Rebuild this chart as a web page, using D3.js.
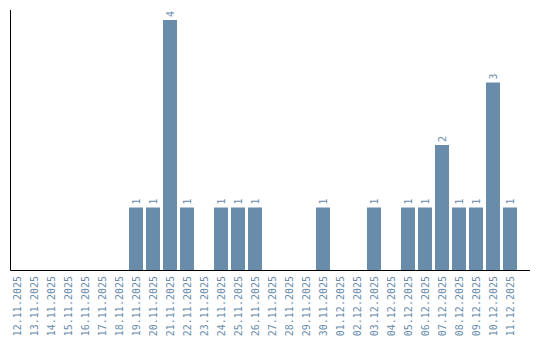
<!DOCTYPE html>
<html>
<head>
<meta charset="utf-8">
<script src="https://cdn.jsdelivr.net/npm/d3@7"></script>
<style>
  body { margin: 0; background: #fff; }
  text { font-family: "DejaVu Sans Mono", monospace; font-size: 10px; fill: #6a8cab; }
</style>
</head>
<body>
<div id="main"></div>
<script>
var dates = ['12.11.2025', '13.11.2025', '14.11.2025', '15.11.2025', '16.11.2025', '17.11.2025',
  '18.11.2025', '19.11.2025', '20.11.2025', '21.11.2025', '22.11.2025', '23.11.2025',
  '24.11.2025', '25.11.2025', '26.11.2025', '27.11.2025', '28.11.2025', '29.11.2025',
  '30.11.2025', '01.12.2025', '02.12.2025', '03.12.2025', '04.12.2025', '05.12.2025',
  '06.12.2025', '07.12.2025', '08.12.2025', '09.12.2025', '10.12.2025', '11.12.2025'];
var counts = [0, 0, 0, 0, 0, 0, 0, 1, 1, 4, 1, 0, 1, 1, 1, 0, 0, 0, 1, 0, 0, 1, 0, 1, 1, 2, 1, 1, 3, 1];

var width = 540,
    height = 340,
    baseY = 270,
    barColor = '#6a8cab';

var svg = d3.select('#main').append('svg')
    .attr('width', width)
    .attr('height', height);

var x = d3.scaleBand()
  .domain(dates)
  .range([8.5, 518.5])
  .paddingInner(3 / 17)
  .paddingOuter(1.5 / 17);

var y = d3.scaleLinear()
  .domain([0, d3.max(counts)])
  .range([baseY, 20]);

var data = dates.map(function(d, i) { return { date: d, value: counts[i] }; });
var shown = data.filter(function(d) { return d.value > 0; });

svg.selectAll('.bar')
  .data(shown)
  .enter().append('rect')
    .attr('class', 'bar')
    .attr('x', function(d) { return x(d.date); })
    .attr('y', function(d) { return y(d.value); })
    .attr('width', x.bandwidth())
    .attr('height', function(d) { return baseY - y(d.value); })
    .style('fill', barColor);

svg.selectAll('.val')
  .data(shown)
  .enter().append('text')
    .attr('class', 'val')
    .attr('transform', function(d) {
      return 'translate(' + (x(d.date) + x.bandwidth() / 2 + 3.5) + ',' + (y(d.value) - 3) + ') rotate(-90)';
    })
    .attr('text-anchor', 'start')
    .text(function(d) { return d.value; });

// x axis labels, no ticks
var xAxis = d3.axisBottom(x).tickSize(0).tickPadding(0);
var gx = svg.append('g')
    .attr('transform', 'translate(0,' + baseY + ')')
    .call(xAxis);
gx.select('.domain').remove();
gx.selectAll('text')
    .attr('transform', 'rotate(-90)')
    .attr('x', -6)
    .attr('y', 0)
    .attr('dy', '0.35em')
    .attr('text-anchor', 'end')
    .style('fill', barColor)
    .style('font-size', '10px')
    .style('font-family', '"DejaVu Sans Mono", monospace');

// axis lines
svg.append('line')
    .attr('x1', 10.5).attr('x2', 10.5)
    .attr('y1', 10).attr('y2', baseY + 0.5)
    .style('stroke', '#000');
svg.append('line')
    .attr('x1', 10.5).attr('x2', 530)
    .attr('y1', baseY + 0.5).attr('y2', baseY + 0.5)
    .style('stroke', '#000');
</script>
</body>
</html>
